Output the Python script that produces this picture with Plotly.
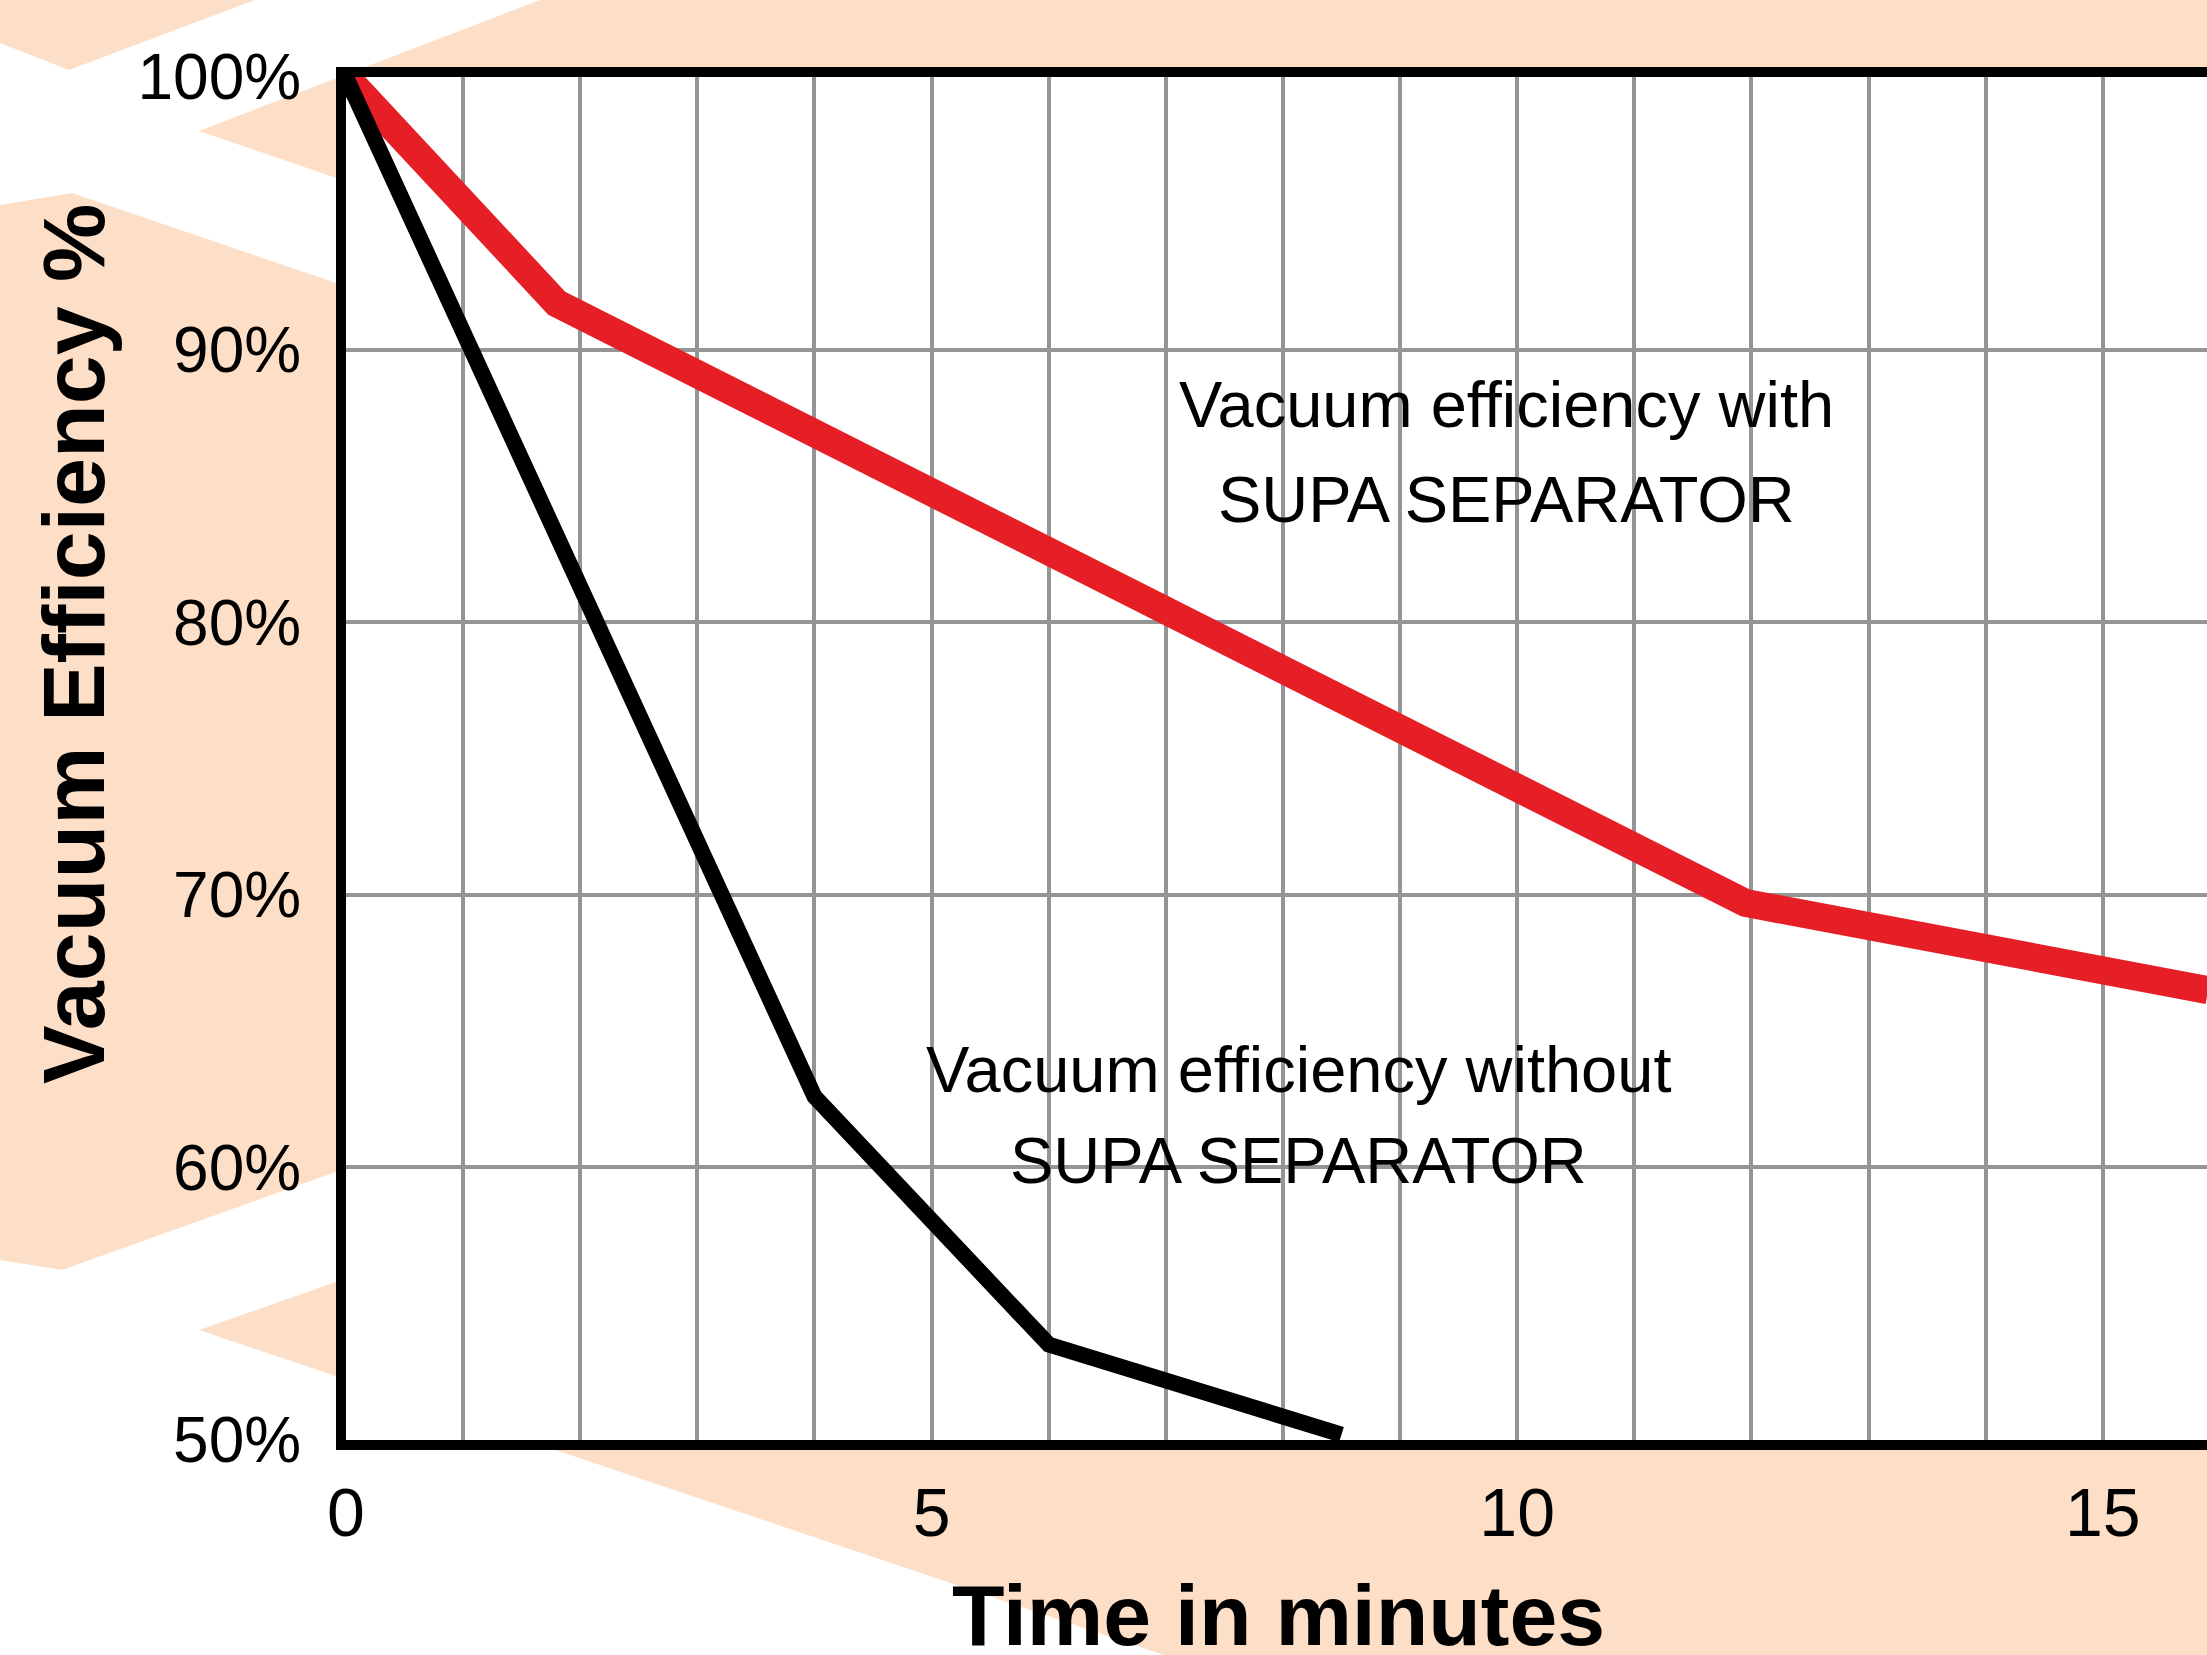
import plotly.graph_objects as go

# ---- data ----
time_with = [0, 1.8, 11.95, 15.9]
eff_with = [100, 91.7, 69.7, 66.5]
time_without = [0, 4.0, 6.0, 8.5]
eff_without = [100, 62.6, 53.5, 50.2]

x_ticks = [0, 5, 10, 15]
y_ticks = [50, 60, 70, 80, 90, 100]
y_tick_text = ["50%", "60%", "70%", "80%", "90%", "100%"]

label_with = ["Vacuum efficiency with", "SUPA SEPARATOR"]
label_without = ["Vacuum efficiency without", "SUPA SEPARATOR"]

# ---- layout geometry (pixels) ----
W, H = 2207, 1655
L, T, B, R = 346, 77, 215, 0
PW, PH = W - L - R, H - T - B
PEACH = "#FDDFC8"
NARROW = "Liberation Sans Narrow, Arial Narrow, Liberation Sans, Arial, sans-serif"
BOLD = "Liberation Sans, Arial, sans-serif"


def px(x):
    return (x - L) / PW


def py(y):
    return (H - B - y) / PH


def path(points):
    s = "M " + " L ".join(f"{px(a):.5f},{py(b):.5f}" for a, b in points) + " Z"
    return s


decor = [
    [(0, 0), (255, 0), (69, 70), (0, 43)],
    [(199, 131), (540, 0), (W, 0), (W, 820)],
    [(0, 205), (72, 193), (1608, 716), (62, 1270), (0, 1260)],
    [(199, 1330), (W, 626), (W, H), (1164, H)],
]

shapes = [
    dict(type="path", path=path(p), xref="paper", yref="paper",
         fillcolor=PEACH, line=dict(width=0), layer="below")
    for p in decor
]
shapes.append(dict(type="rect", xref="paper", yref="paper", x0=0, x1=1, y0=0, y1=1,
                   fillcolor="white", line=dict(width=0), layer="below"))

fig = go.Figure()
fig.add_trace(go.Scatter(x=time_with, y=eff_with, mode="lines",
                         line=dict(color="#E61E25", width=28), hoverinfo="skip"))
fig.add_trace(go.Scatter(x=time_without, y=eff_without, mode="lines",
                         line=dict(color="black", width=16), hoverinfo="skip"))

ann = []
for txt, yy in zip(label_with, [88.0, 84.5]):
    ann.append(dict(x=9.91, y=yy, xref="x", yref="y", text=txt, showarrow=False,
                    xanchor="center", yanchor="middle",
                    font=dict(family=NARROW, size=65, color="black")))
for txt, yy in zip(label_without, [63.6, 60.25]):
    ann.append(dict(x=8.13, y=yy, xref="x", yref="y", text=txt, showarrow=False,
                    xanchor="center", yanchor="middle",
                    font=dict(family=NARROW, size=65, color="black")))

ann.append(dict(x=px(1278), y=py(1565), xref="paper", yref="paper",
                text="<b>Time in minutes</b>", showarrow=False,
                xanchor="center", yanchor="top",
                font=dict(family=BOLD, size=86, color="black")))
ann.append(dict(x=px(73), y=py(644), xref="paper", yref="paper",
                text="<b>Vacuum Efficiency %</b>", showarrow=False, textangle=-90,
                xanchor="center", yanchor="middle",
                font=dict(family=BOLD, size=88, color="black")))

fig.update_layout(
    width=W, height=H,
    margin=dict(l=L, r=R, t=T, b=B, pad=0, autoexpand=False),
    paper_bgcolor="white", plot_bgcolor="white",
    showlegend=False, hovermode=False,
    shapes=shapes, annotations=ann,
)
fig.update_xaxes(
    range=[0, 15.89], tickvals=x_ticks, ticks="",
    showgrid=True, gridcolor="#959595", gridwidth=4,
    minor=dict(dtick=1, tick0=0, showgrid=True, gridcolor="#959595", gridwidth=4),
    showline=True, linecolor="black", linewidth=10, mirror=True,
    zeroline=False, ticklabelstandoff=4,
    tickfont=dict(family=NARROW, size=68, color="black"),
)
fig.update_yaxes(
    range=[50, 100], tickvals=y_ticks, ticktext=y_tick_text, ticks="",
    showgrid=True, gridcolor="#959595", gridwidth=4,
    showline=True, linecolor="black", linewidth=10, mirror=False,
    zeroline=False, ticklabelstandoff=22,
    tickfont=dict(family=NARROW, size=64, color="black"),
)

fig.write_html("out.html", config={"displayModeBar": False},
               post_script="document.body.style.margin='0';")
